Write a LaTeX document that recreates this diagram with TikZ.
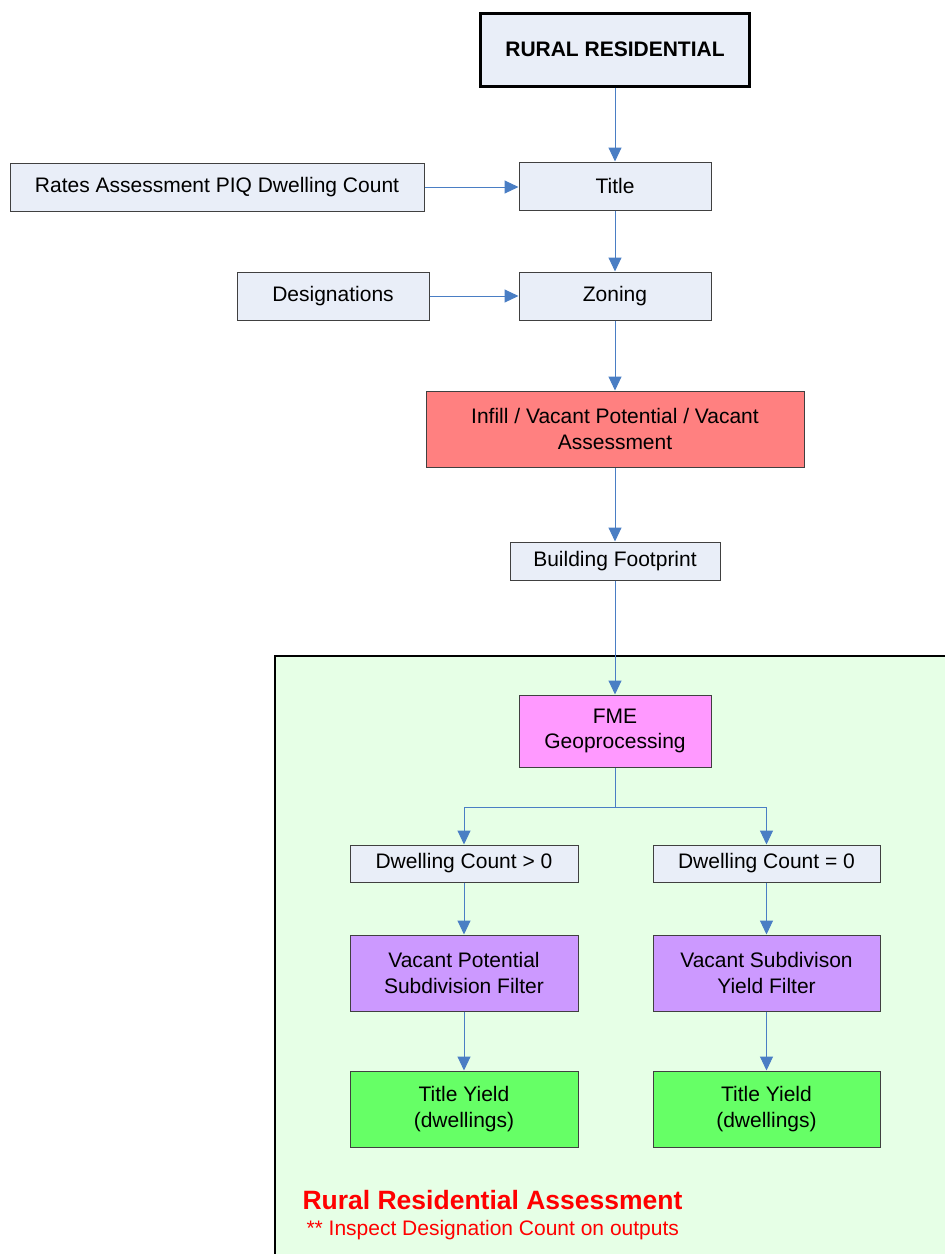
\documentclass[tikz,border=0pt]{standalone}
\usepackage{fontspec}
\setmainfont{Liberation Sans}
\usetikzlibrary{arrows.meta, positioning}

\definecolor{boxblue}{HTML}{E9EEF8}
\definecolor{infillred}{HTML}{FF8080}
\definecolor{fmepink}{HTML}{FF99FF}
\definecolor{filterpurple}{HTML}{CC99FF}
\definecolor{yieldgreen}{HTML}{66FF66}
\definecolor{regiongreen}{HTML}{E6FFE6}
\definecolor{arrowblue}{HTML}{4A7EC4}
\definecolor{labelred}{HTML}{FF0000}

\begin{document}
\begin{tikzpicture}[
    x=1pt, y=-1pt,
    every node/.style={font=\fontsize{21}{25.5}\selectfont, align=center},
    box/.style={rectangle, draw=black!75, fill=boxblue, line width=1pt, inner sep=0pt},
    mainbox/.style={box, draw=black, line width=3pt, font=\fontsize{21}{25.5}\selectfont\bfseries},
    stepbox/.style={box, minimum width=192pt, minimum height=48pt},
    region/.style={draw=black, fill=regiongreen, line width=2pt},
    arrow/.style={-{Triangle[length=14pt, width=13pt]}, line width=1pt, draw=arrowblue}
]
\clip (0,0) rectangle (945,1254);

% Assessment region
\draw [region] (275,656) rectangle (960,1270);
\node (rrlabel) [anchor=west, text=labelred, font=\fontsize{26.5}{30}\selectfont\bfseries] at (299,1200) {Rural Residential Assessment};
\node (rrnote) [anchor=west, text=labelred] at (303,1230) {** Inspect Designation Count on outputs};

% Nodes
\node (rural) [mainbox, minimum width=269pt, minimum height=73pt] at (615,49.5) {RURAL RESIDENTIAL};
\node (title) [stepbox] at (615,186) {Title};
\node (rates) [box, minimum width=414pt, minimum height=48pt] at (217,187) {Rates Assessment PIQ Dwelling Count};
\node (zoning) [stepbox] at (615,296) {Zoning};
\node (desig) [stepbox] at (333,296) {Designations};
\node (infill) [box, fill=infillred, minimum width=378pt, minimum height=76pt] at (615,429) {Infill / Vacant Potential / Vacant\\Assessment};
\node (bfoot) [box, minimum width=210pt, minimum height=38pt] at (615,561) {Building Footprint};
\node (fme) [box, fill=fmepink, minimum width=192pt, minimum height=72pt] at (615,731) {FME\\Geoprocessing};

% Branches
\node (dcpos) [box, minimum width=228pt, minimum height=37pt] at (464,863.5) {Dwelling Count > 0};
\node (dczero) [box, minimum width=227pt, minimum height=37pt] at (766.5,863.5) {Dwelling Count = 0};
\node (vpfilter) [box, fill=filterpurple, minimum width=228pt, minimum height=76pt] at (464,973) {Vacant Potential\\Subdivision Filter};
\node (vyfilter) [box, fill=filterpurple, minimum width=227pt, minimum height=76pt] at (766.5,973) {Vacant Subdivison\\Yield Filter};
\node (yieldpos) [box, fill=yieldgreen, minimum width=228pt, minimum height=76pt] at (464,1109) {Title Yield\\(dwellings)};
\node (yieldzero) [box, fill=yieldgreen, minimum width=227pt, minimum height=76pt] at (766.5,1109) {Title Yield\\(dwellings)};

% Arrows
\draw [arrow] (rural) -- (title);
\draw [arrow] (rates.east) -- (rates.east -| title.west);
\draw [arrow] (title) -- (zoning);
\draw [arrow] (desig) -- (zoning);
\draw [arrow] (zoning) -- (infill);
\draw [arrow] (infill) -- (bfoot);
\draw [arrow] (bfoot) -- (fme);

\coordinate [below=40pt of fme] (split);
\draw [arrow] (fme.south) -- (split) -| (dcpos.north);
\draw [arrow] (split) -| (dczero.north);

\draw [arrow] (dcpos) -- (vpfilter);
\draw [arrow] (dczero) -- (vyfilter);
\draw [arrow] (vpfilter) -- (yieldpos);
\draw [arrow] (vyfilter) -- (yieldzero);

\end{tikzpicture}
\end{document}
